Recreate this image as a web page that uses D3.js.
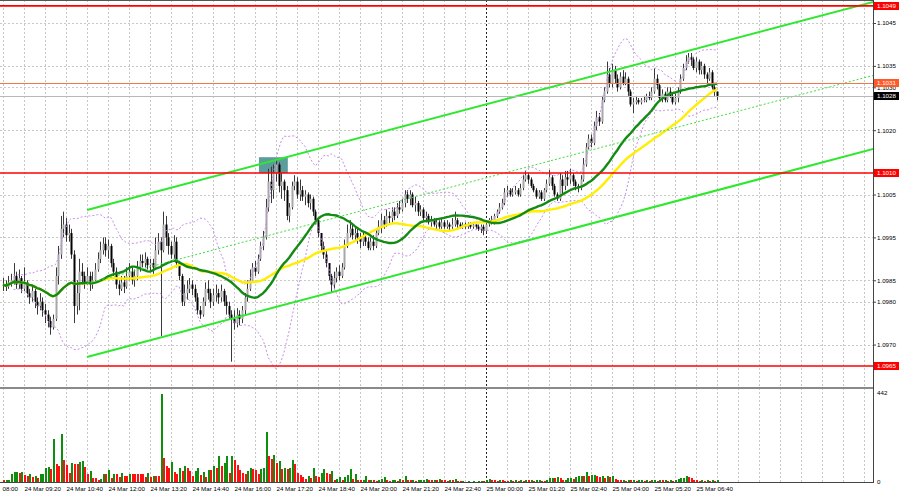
<!DOCTYPE html>
<html><head><meta charset="utf-8">
<script src="https://cdn.jsdelivr.net/npm/d3@7"></script>
<style>html,body{margin:0;padding:0;background:#fff;overflow:hidden}svg{display:block}</style>
</head><body><svg id="c" width="900" height="497"></svg>
<script>
// ---------- DATA (EURUSD M5, 24 Mar 08:40 -> 25 Mar 07:20) ----------
const closes = [
1.0984,1.09835,1.09845,1.0985,1.0986,1.0984,1.09855,1.0983,1.09845,1.0982,
1.0981,1.09825,1.098,1.0979,1.098,1.0978,1.0977,1.09755,1.0974,1.0976,
1.0986,1.0991,1.0997,1.0998,1.09955,1.0996,1.0991,1.0979,1.0982,1.0987,
1.0986,1.09845,1.0986,1.0984,1.0985,1.09875,1.099,1.0992,1.09935,1.0992,
1.0993,1.0989,1.0987,1.0984,1.0983,1.09845,1.09835,1.0986,1.0987,1.0985,
1.0986,1.0988,1.09895,1.0989,1.099,1.09885,1.0989,1.0988,1.0992,1.0994,
1.0992,1.0998,1.0995,1.0993,1.0991,1.0994,1.0989,1.0986,1.098,1.0982,
1.0983,1.0984,1.0983,1.0981,1.0978,1.0977,1.098,1.0983,1.0982,1.098,
1.09815,1.0982,1.0981,1.09825,1.098,1.0979,1.0977,1.0976,1.0975,1.0977,
1.0976,1.0978,1.0981,1.0983,1.0985,1.0988,1.0987,1.099,1.0993,1.0995,
1.1002,1.1008,1.1006,1.101,1.1012,1.1007,1.1008,1.1006,1.1,1.1002,
1.1007,1.1008,1.1005,1.1006,1.10045,1.1005,1.1003,1.1004,1.1001,1.0999,
1.0996,1.0993,1.0991,1.0989,1.0986,1.0984,1.09855,1.0987,1.0986,1.0988,
1.0993,1.0996,1.0997,1.09955,1.0996,1.0995,1.0994,1.0995,1.0994,1.09925,
1.0994,1.0993,1.0996,1.09975,1.0999,1.0998,1.1,1.09995,1.1001,1.1,
1.1002,1.10015,1.1003,1.1005,1.1004,1.1005,1.10025,1.1003,1.1001,1.10015,
1.09995,1.1,1.09985,1.0999,1.0998,1.09985,1.09975,1.09985,1.09975,1.0998,
1.09975,1.0998,1.0999,1.0998,1.09975,1.0998,1.09975,1.0998,1.09975,1.0998,
1.09975,1.0997,1.09975,1.09965,1.0998,1.0999,1.09985,1.1,1.1001,1.1002,
1.1003,1.10055,1.1006,1.1005,1.10055,1.1006,1.1005,1.10065,1.10085,1.10095,
1.10085,1.1007,1.1006,1.10045,1.10055,1.1004,1.1006,1.10075,1.1009,1.1007,
1.1005,1.1004,1.10085,1.1007,1.1009,1.10085,1.10095,1.1008,1.1007,1.10065,
1.10085,1.1012,1.1016,1.1018,1.1017,1.1021,1.1023,1.1022,1.1027,1.1029,
1.1033,1.1031,1.1034,1.1032,1.103,1.10325,1.1031,1.1032,1.1029,1.1026,
1.10265,1.1027,1.10265,1.1027,1.1027,1.1028,1.10275,1.1029,1.1032,1.10305,
1.10275,1.10285,1.1027,1.1029,1.1028,1.10265,1.10275,1.1029,1.1032,1.10345,
1.1036,1.1037,1.10365,1.10345,1.1036,1.1034,1.1035,1.1033,1.1032,1.10335,
1.103,1.1029,1.1028];
const highs = [
1.09855,1.0985,1.0986,1.09865,1.0989,1.0987,1.09875,1.0986,1.0988,1.0985,
1.0983,1.0984,1.0983,1.0981,1.0982,1.0981,1.09795,1.0978,1.09765,1.0977,
1.0988,1.0993,1.1,1.1001,1.09995,1.0998,1.0997,1.0992,1.0985,1.099,
1.0989,1.0987,1.0988,1.0987,1.0987,1.0989,1.09915,1.0994,1.0995,1.0995,
1.09945,1.09935,1.099,1.0988,1.0985,1.0986,1.0986,1.0988,1.0989,1.0988,
1.09875,1.09895,1.0991,1.0991,1.09915,1.09905,1.099,1.099,1.0995,1.0996,
1.0995,1.1001,1.1,1.0996,1.0994,1.09955,1.0995,1.09895,1.09865,1.0984,
1.0985,1.09855,1.0985,1.0984,1.0982,1.0979,1.0981,1.09845,1.0985,1.0983,
1.0983,1.0984,1.0983,1.0984,1.0983,1.09815,1.098,1.0978,1.0978,1.09785,
1.0978,1.0979,1.0982,1.0985,1.09875,1.0989,1.09895,1.0991,1.0994,1.09965,
1.1004,1.1011,1.10115,1.1012,1.10133,1.10125,1.101,1.10085,1.1007,1.1003,
1.1008,1.10095,1.1009,1.10085,1.1007,1.1006,1.10055,1.1005,1.10045,1.10015,
1.09995,1.0996,1.0994,1.0992,1.0989,1.09865,1.0987,1.0988,1.09885,1.0989,
1.09945,1.0998,1.0999,1.0998,1.09975,1.0997,1.0996,1.09965,1.0996,1.0995,
1.0995,1.09955,1.0997,1.0999,1.10005,1.1,1.10015,1.1001,1.1002,1.1002,
1.1003,1.10035,1.1004,1.1006,1.1006,1.1006,1.10055,1.10045,1.10035,1.10025,
1.1002,1.1001,1.10005,1.1,1.09995,1.09995,1.0999,1.09995,1.0999,1.0999,
1.09985,1.09995,1.1001,1.09995,1.09985,1.09985,1.09985,1.09985,1.09985,1.09985,
1.0998,1.0998,1.0998,1.0998,1.09985,1.09995,1.1,1.10005,1.10015,1.1003,
1.1004,1.10065,1.1007,1.10065,1.10065,1.1007,1.10065,1.10075,1.10095,1.10105,
1.101,1.1009,1.10075,1.10065,1.1006,1.1006,1.10065,1.10085,1.10107,1.10095,
1.10075,1.10055,1.101,1.10095,1.10105,1.10105,1.1011,1.101,1.10085,1.10075,
1.10095,1.10135,1.1017,1.1019,1.1019,1.1022,1.10245,1.1024,1.1028,1.103,
1.1036,1.10345,1.10355,1.1035,1.1033,1.10335,1.1034,1.10335,1.10325,1.10295,
1.10275,1.1028,1.10275,1.10275,1.1028,1.10285,1.1029,1.103,1.10345,1.1033,
1.1031,1.10295,1.1029,1.103,1.103,1.10285,1.10285,1.103,1.1033,1.10355,
1.10375,1.1038,1.1038,1.1037,1.1037,1.10365,1.1036,1.10355,1.10335,1.10345,
1.1034,1.10305,1.1029];
const lows = [
1.09825,1.09825,1.0983,1.09835,1.0984,1.0983,1.0983,1.0982,1.09825,1.0981,
1.09795,1.098,1.09785,1.0977,1.0978,1.09765,1.0975,1.0974,1.09723,1.09735,
1.09755,1.0984,1.099,1.0995,1.0994,1.0994,1.099,1.0975,1.0977,1.0978,
1.0984,1.0983,1.0984,1.09825,1.0983,1.09845,1.0987,1.0989,1.0991,1.09905,
1.099,1.0988,1.0986,1.0983,1.09815,1.09825,1.0982,1.0983,1.0985,1.0984,
1.09835,1.0985,1.0987,1.0988,1.0988,1.09875,1.0987,1.09865,1.0989,1.0991,
1.0972,1.09915,1.0993,1.0991,1.099,1.099,1.0988,1.0985,1.0979,1.0979,
1.09805,1.0982,1.09815,1.098,1.0977,1.0976,1.09765,1.0979,1.09805,1.09785,
1.0979,1.098,1.09795,1.098,1.0979,1.0977,1.0976,1.0966,1.09735,1.0974,
1.09745,1.0975,1.0977,1.098,1.09825,1.0985,1.0986,1.09865,1.09895,1.0992,
1.09945,1.1001,1.1003,1.1004,1.1008,1.10055,1.1004,1.10035,1.0999,1.09985,
1.10015,1.1006,1.1004,1.10035,1.10035,1.10025,1.1002,1.10015,1.1,1.0998,
1.0995,1.0992,1.099,1.0988,1.0985,1.0982,1.0983,1.09845,1.0985,1.09855,
1.09875,1.09925,1.0995,1.09945,1.0994,1.09935,1.09925,1.0993,1.0993,1.0992,
1.0992,1.0992,1.09925,1.09955,1.0996,1.0997,1.09975,1.0998,1.09985,1.0999,
1.09995,1.10005,1.1001,1.1002,1.1003,1.10025,1.1002,1.1001,1.1,1.1,
1.0999,1.09985,1.0998,1.09975,1.09975,1.0997,1.0997,1.0997,1.0997,1.0997,
1.09965,1.0997,1.09975,1.0997,1.0997,1.0997,1.0997,1.0997,1.0997,1.0997,
1.0997,1.09965,1.0996,1.09955,1.0996,1.09975,1.0998,1.0998,1.09995,1.10005,
1.10015,1.10025,1.10045,1.10045,1.10045,1.1005,1.10045,1.10045,1.1006,1.1008,
1.10075,1.10065,1.10055,1.1004,1.1004,1.10035,1.10035,1.10055,1.1007,1.1006,
1.10045,1.10035,1.10035,1.1005,1.1006,1.1007,1.10075,1.1007,1.1006,1.10055,
1.1006,1.1008,1.10115,1.10155,1.1016,1.10165,1.102,1.1021,1.10215,1.10265,
1.10285,1.103,1.103,1.1031,1.1029,1.10295,1.10305,1.10305,1.1028,1.10255,
1.1024,1.1026,1.1026,1.1026,1.10265,1.10265,1.1027,1.1027,1.10285,1.10295,
1.1027,1.10265,1.10265,1.10265,1.10275,1.1026,1.1026,1.10265,1.10285,1.10315,
1.1034,1.10355,1.1035,1.1034,1.10335,1.1033,1.1033,1.1032,1.1031,1.10315,
1.10295,1.1028,1.1027];
const volumes = [
8,10,12,40,48,52,45,50,35,30,
40,25,28,22,38,42,68,75,65,214,
90,80,240,108,84,44,93,88,88,100,
104,74,38,55,22,18,12,17,42,42,
58,20,40,40,23,47,31,28,40,40,
40,40,40,40,23,44,23,31,31,31,
436,120,78,68,100,52,40,72,56,78,
68,56,31,56,68,34,52,26,60,60,
78,72,130,78,96,130,47,130,108,85,
60,44,40,56,72,64,60,40,64,72,
250,130,113,133,96,106,66,72,66,72,
110,88,47,34,23,15,28,18,70,31,
23,47,64,47,41,54,10,15,23,12,
23,34,64,15,40,10,8,10,31,8,
12,10,5,8,15,23,10,6,8,12,
6,15,8,31,10,8,12,5,8,10,
12,15,10,8,12,10,14,12,10,6,
12,10,15,5,3,4,2,3,2,3,
2,3,4,3,12,14,10,8,6,10,
8,6,5,8,6,10,5,8,6,12,
8,10,6,8,10,6,5,8,20,22,
18,24,20,10,12,18,22,15,25,28,
30,28,52,30,34,36,28,25,30,20,
28,24,30,14,10,8,12,6,10,8,
12,5,8,10,6,12,5,8,10,6,
10,8,12,5,8,6,10,14,20,22,
28,25,18,10,8,6,10,5,8,6,
10,5,8];
const priceTicks = [1.1045,1.1035,1.1030,1.1020,1.1005,1.0995,1.0985,1.0980,1.0970];
const levelLines = [1.1049, 1.1010, 1.0965];
const askPrice = 1.1031, bidPrice = 1.1028;
// first label is clipped by the left edge in the original; only "08:00" shows
const timeLabels = ["08:00","24 Mar 09:20","24 Mar 10:40","24 Mar 12:00","24 Mar 13:20","24 Mar 14:40",
 "24 Mar 16:00","24 Mar 17:20","24 Mar 18:40","24 Mar 20:00","24 Mar 21:20","24 Mar 22:40",
 "25 Mar 00:00","25 Mar 01:20","25 Mar 02:40","25 Mar 04:00","25 Mar 05:20","25 Mar 06:40"];
const timeLabelBars = [-8,8,24,40,56,72,88,104,120,136,152,168,184,200,216,232,248,264];
const daySeparatorBar = 184;
const volumeTicks = [0, 442];
const channelBars = [32, 332];
const channelUpper = [1.10014, 1.10500];
const channelLower = [1.09671, 1.10157];
const zoneBars = [97.5, 108.5];
const zonePrices = [1.1010, 1.10137];
const maFast = 30, maSlow = 50, bbPeriod = 20, bbDev = 2;

// ---------- LAYOUT ----------
const W = 900, H = 497, plotR = 873, mainTop = 0, mainBot = 386, volTop = 389, volBot = 482;
const svg = d3.select("#c");
const x = d3.scaleLinear().domain([0, 272]).range([3, 717]);
const y = d3.scaleLinear().domain([1.0965, 1.1045]).range([366, 23]);
const yv = d3.scaleLinear().domain([0, 442]).range([482, 393]);
const FONT = "'Liberation Sans', Arial, sans-serif";

const defs = svg.append("defs");
defs.append("clipPath").attr("id","cm").append("rect").attr("x",0).attr("y",mainTop).attr("width",plotR).attr("height",mainBot-mainTop);
defs.append("clipPath").attr("id","cv").append("rect").attr("x",0).attr("y",volTop).attr("width",plotR).attr("height",volBot-volTop);

svg.append("rect").attr("width",W).attr("height",H).attr("fill","#fff");

// vertical grid (every 40 min)
const gridBars = d3.range(-8, 340, 8);
const gG = svg.append("g").attr("shape-rendering","crispEdges");
gG.selectAll("line.v").data(gridBars.filter(d=>x(d)>=0 && x(d)<plotR)).join("line")
  .attr("x1",d=>Math.round(x(d))+0.5).attr("x2",d=>Math.round(x(d))+0.5)
  .attr("y1",0).attr("y2",volBot).attr("stroke","#c8c8c8").attr("stroke-dasharray","2,2");
gG.selectAll("line.h").data(priceTicks).join("line")
  .attr("x1",0).attr("x2",plotR).attr("y1",d=>Math.round(y(d))+0.5).attr("y2",d=>Math.round(y(d))+0.5)
  .attr("stroke","#c8c8c8").attr("stroke-dasharray","2,2");

// day separator
svg.append("line").attr("x1",Math.round(x(daySeparatorBar))+0.5).attr("x2",Math.round(x(daySeparatorBar))+0.5)
  .attr("y1",0).attr("y2",volBot).attr("stroke","#222").attr("stroke-dasharray","2,2").attr("shape-rendering","crispEdges");

const main = svg.append("g").attr("clip-path","url(#cm)");

// zone rectangle
main.append("rect").attr("x",x(zoneBars[0])).attr("width",x(zoneBars[1])-x(zoneBars[0]))
  .attr("y",y(zonePrices[1])).attr("height",y(zonePrices[0])-y(zonePrices[1])).attr("fill","#5c9c9c");

// candles
const bars = closes.map((c,i)=>{
  const o = i===0 ? c : closes[i-1];
  return {i, o, c, h: Math.max(highs[i], o, c), l: Math.min(lows[i], o, c)};
});
const cg = main.append("g");
cg.selectAll("line.w").data(bars).join("line")
  .attr("x1",d=>Math.round(x(d.i))+0.5).attr("x2",d=>Math.round(x(d.i))+0.5)
  .attr("y1",d=>y(d.h)).attr("y2",d=>y(d.l)).attr("stroke","#3a3a3a").attr("stroke-width",1);
cg.selectAll("rect.b").data(bars).join("rect")
  .attr("x",d=>Math.round(x(d.i))-0.5).attr("width",2)
  .attr("y",d=>y(Math.max(d.o,d.c))).attr("height",d=>Math.max(1,Math.abs(y(d.o)-y(d.c))))
  .attr("fill",d=>d.c>=d.o?"#a8a8a8":"#000");

// bollinger bands
const bb = closes.map((c,i)=>{
  if(i<4) return null;
  const w = closes.slice(Math.max(0,i-bbPeriod+1), i+1);
  const m = d3.mean(w); const sd = Math.sqrt(d3.mean(w, v=>(v-m)*(v-m)));
  return {i, up: m+bbDev*sd, lo: m-bbDev*sd};
}).filter(Boolean);
const bbStyle = s=>s.attr("fill","none").attr("stroke","#c58ce8").attr("stroke-width",1).attr("stroke-dasharray","2,2");
main.append("path").datum(bb).attr("d",d3.line().x(d=>x(d.i)).y(d=>y(d.up))).call(bbStyle);
main.append("path").datum(bb).attr("d",d3.line().x(d=>x(d.i)).y(d=>y(d.lo))).call(bbStyle);

// moving averages
const sma = p => closes.map((c,i)=>({i, v: d3.mean(closes.slice(Math.max(0,i-p+1), i+1))}));
main.append("path").datum(sma(maSlow)).attr("d",d3.line().x(d=>x(d.i)).y(d=>y(d.v)))
  .attr("fill","none").attr("stroke","#ffee00").attr("stroke-width",2.4);
main.append("path").datum(sma(maFast)).attr("d",d3.line().x(d=>x(d.i)).y(d=>y(d.v)))
  .attr("fill","none").attr("stroke","#138a13").attr("stroke-width",2.4);

// channel
const chLine = (a,b)=>main.append("line").attr("x1",x(channelBars[0])).attr("x2",x(channelBars[1]))
  .attr("y1",y(a)).attr("y2",y(b));
chLine(channelUpper[0],channelUpper[1]).attr("stroke","#2ee82e").attr("stroke-width",2);
chLine(channelLower[0],channelLower[1]).attr("stroke","#2ee82e").attr("stroke-width",2);
chLine((channelUpper[0]+channelLower[0])/2,(channelUpper[1]+channelLower[1])/2)
  .attr("stroke","#3de03d").attr("stroke-width",1).attr("stroke-dasharray","2,2");

// horizontal levels
main.selectAll("line.lv").data(levelLines).join("line")
  .attr("x1",0).attr("x2",plotR).attr("y1",d=>y(d)).attr("y2",d=>y(d))
  .attr("stroke","#ff0000").attr("stroke-width",1.6);
main.append("line").attr("x1",0).attr("x2",plotR).attr("y1",Math.round(y(askPrice))+0.5).attr("y2",Math.round(y(askPrice))+0.5)
  .attr("stroke","#f07850").attr("stroke-width",1);
main.append("line").attr("x1",0).attr("x2",plotR).attr("y1",Math.round(y(bidPrice))+0.5).attr("y2",Math.round(y(bidPrice))+0.5)
  .attr("stroke","#b8b8b8").attr("stroke-width",1);

// volumes
const vg = svg.append("g").attr("clip-path","url(#cv)").attr("shape-rendering","crispEdges");
vg.selectAll("rect").data(volumes).join("rect")
  .attr("x",(d,i)=>Math.round(x(i))-0.5).attr("width",2)
  .attr("y",d=>yv(d)).attr("height",d=>yv(0)-yv(d))
  .attr("fill",(d,i)=> i>0 && d>volumes[i-1] ? "#0d8f0d" : "#ff1010");

// frames
const fr = svg.append("g").attr("shape-rendering","crispEdges");
fr.append("line").attr("x1",0).attr("x2",plotR).attr("y1",0.5).attr("y2",0.5).attr("stroke","#555");
fr.append("rect").attr("x",0).attr("y",mainBot+0.5).attr("width",plotR).attr("height",2.5).attr("fill","#8a8a8a");
fr.append("line").attr("x1",0).attr("x2",plotR+0.5).attr("y1",volBot+0.5).attr("y2",volBot+0.5).attr("stroke","#444");
fr.append("line").attr("x1",plotR+0.5).attr("x2",plotR+0.5).attr("y1",0).attr("y2",volBot+1).attr("stroke","#444");

// price axis
const pa = svg.append("g").attr("transform",`translate(${plotR},0)`)
  .call(d3.axisRight(y).tickValues(priceTicks).tickFormat(d3.format(".4f")).tickSize(3).tickPadding(1));
pa.select(".domain").remove();
pa.selectAll("line").attr("stroke","#444");
pa.selectAll("text").attr("font-family",FONT).attr("font-size","6.2px").attr("fill","#000");

// volume axis
const va = svg.append("g").attr("transform",`translate(${plotR},0)`)
  .call(d3.axisRight(yv).tickValues(volumeTicks).tickFormat(d3.format("d")).tickSize(0).tickPadding(4));
va.select(".domain").remove();
va.selectAll("text").attr("font-family",FONT).attr("font-size","6.2px").attr("fill","#000");

// price boxes
const boxes = [
  {p: levelLines[0], fill:"#ff0000"},
  {p: levelLines[1], fill:"#ff0000"},
  {p: levelLines[2], fill:"#ff0000"},
  {p: askPrice, fill:"#ff5a28"},
  {p: bidPrice, fill:"#000"}
];
const bxg = svg.append("g");
boxes.forEach(b=>{
  const cy = y(b.p);
  bxg.append("rect").attr("x",plotR+1).attr("y",Math.round(cy)-4).attr("width",25).attr("height",8).attr("fill",b.fill);
  bxg.append("text").attr("x",plotR+4).attr("y",cy).attr("dy","0.34em").text(d3.format(".4f")(b.p))
    .attr("font-family",FONT).attr("font-size","6.2px").attr("fill","#fff");
});

// time axis
const ta = svg.append("g").attr("transform",`translate(0,${volBot})`)
  .call(d3.axisBottom(x).tickValues(timeLabelBars).tickFormat((d,i)=>timeLabels[i]).tickSize(0).tickPadding(5));
ta.select(".domain").remove();
ta.selectAll("text").attr("text-anchor","start").attr("font-family",FONT).attr("font-size","6.2px").attr("fill","#000")
  .attr("dx",(d,i)=> i===0 ? (2 - x(d)) + "px" : "0px");
</script></body></html>
